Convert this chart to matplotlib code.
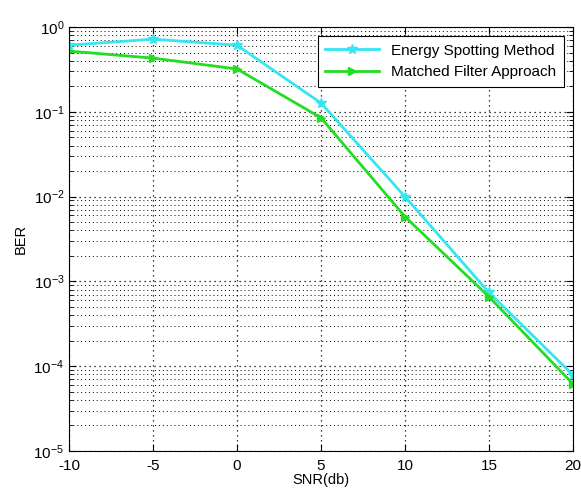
import numpy as np
import matplotlib.pyplot as plt
from matplotlib.ticker import LogLocator, NullFormatter

plt.rcParams['font.family'] = ['Liberation Sans', 'DejaVu Sans']
plt.rcParams['axes.unicode_minus'] = False

snr = [-10, -5, 0, 5, 10, 15, 20]
ber_energy = [0.61, 0.72, 0.61, 0.127, 0.0100, 7.4e-4, 7.9e-5]
ber_matched = [0.52, 0.43, 0.32, 0.085, 0.0058, 6.6e-4, 6.2e-5]

fig = plt.figure(figsize=(5.81, 4.97), dpi=100)
ax = fig.add_axes([0.119, 0.0926, 0.867, 0.853])

ax.semilogy(snr, ber_energy, '-*', color='#33e6f0', lw=2, ms=7,
            label='Energy Spotting Method')
ax.semilogy(snr, ber_matched, '->', color='#22dd22', lw=2, ms=6,
            label='Matched Filter Approach')

ax.set_xlim(-10, 20)
ax.set_ylim(1e-5, 1)
ax.set_xticks(snr)
ax.yaxis.set_major_locator(LogLocator(base=10, numticks=10))
ax.yaxis.set_minor_locator(LogLocator(base=10, subs=np.arange(2, 10), numticks=10))
ax.yaxis.set_minor_formatter(NullFormatter())

dots = (0, (1, 3))
ax.grid(True, which='major', ls=dots, color='black', lw=0.9)
ax.grid(True, which='minor', axis='y', ls=dots, color='black', lw=0.7)
ax.tick_params(direction='in', which='both', top=True, right=True, labelsize=11)
ax.tick_params(which='major', length=5)
ax.tick_params(which='minor', length=3)
ax.tick_params(axis='x', pad=6)
for s in ax.spines.values():
    s.set_linewidth(0.8)

ax.set_xlabel('SNR(db)', fontsize=10.5, labelpad=0)
ax.set_ylabel('BER', fontsize=10.5)

leg = ax.legend(loc='upper right', fontsize=11, fancybox=False, framealpha=1,
                edgecolor='black', handlelength=3.5, borderaxespad=0.6,
                labelspacing=0.5, borderpad=0.5)
leg.get_frame().set_linewidth(0.8)

fig.savefig('out.png', dpi=100)
